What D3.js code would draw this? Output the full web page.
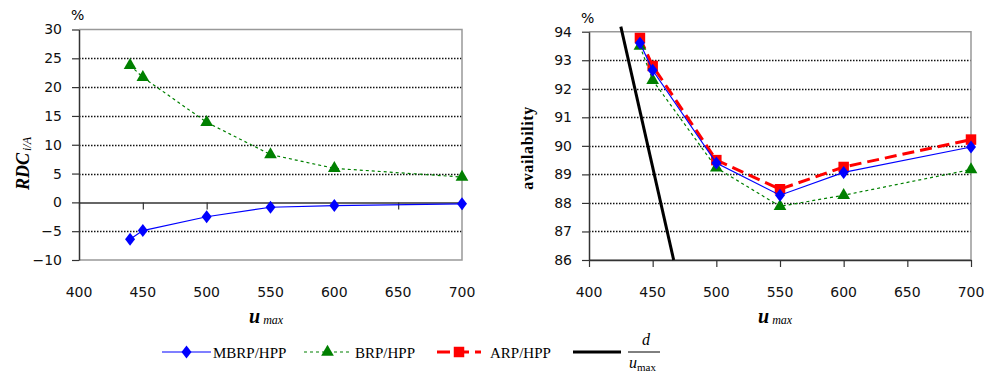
<!DOCTYPE html>
<html>
<head>
<meta charset="utf-8">
<script src="https://cdn.jsdelivr.net/npm/d3@7"></script>
<style>
  body { margin: 0; background: #fff; }
  svg { display: block; }
  .serif { font-family: "Liberation Serif", "Times New Roman", serif; }
</style>
</head>
<body>
<svg id="chart" width="984" height="378"></svg>
<script>
// u_max values shared by both panels
var umax = [440, 450, 500, 550, 600, 700];

// left panel: RDC i/A (%)
var rdcMBRP = [-6.4, -4.9, -2.5, -0.85, -0.55, -0.25];
var rdcBRP = [23.8, 21.7, 13.9, 8.3, 5.9, 4.4];

// right panel: availability (%)
var avMBRP = [93.6, 92.65, 89.4, 88.27, 89.07, 89.96];
var avBRP = [93.5, 92.3, 89.23, 87.88, 88.27, 89.17];
var avARP = [93.78, 92.8, 89.5, 88.48, 89.26, 90.22];

// d / u_max line (two ends)
var dLineX = [425, 466.5];
var dLineY = [94.18, 86];

var xTicks = [400, 450, 500, 550, 600, 650, 700];
var leftYTicks = [-10, -5, 0, 5, 10, 15, 20, 25, 30];
var rightYTicks = [86, 87, 88, 89, 90, 91, 92, 93, 94];

var series = {
  mbrp: {color: '#0000ff', width: 1.2, dash: null, symbol: d3.symbolDiamond, size: 60, label: 'MBRP/HPP'},
  brp: {color: '#008000', width: 1.2, dash: '3,3', symbol: d3.symbolTriangle, size: 70, label: 'BRP/HPP'},
  arp: {color: '#ff0000', width: 3, dash: '12,6', symbol: d3.symbolSquare, size: 110, label: 'ARP/HPP'}
};

var svg = d3.select('#chart');

function panel(opts) {
  var x = d3.scaleLinear().domain([400, 700]).range(opts.xr);
  var y = d3.scaleLinear().domain(opts.yd).range(opts.yr);
  var g = svg.append('g');

  // dotted gridlines
  g.selectAll('.grid').data(opts.yTicks.filter(function(t) {
    return t !== opts.yd[0] && t !== opts.yd[1] && t !== opts.axisAt;
  })).enter().append('line')
    .attr('x1', opts.xr[0]).attr('x2', opts.xr[1])
    .attr('y1', function(d) { return Math.round(y(d)) + 0.5; })
    .attr('y2', function(d) { return Math.round(y(d)) + 0.5; })
    .attr('stroke', '#111').attr('stroke-width', 1.3).attr('stroke-dasharray', '1.5,1.5');

  // plot border (top, right, bottom)
  g.append('path')
    .attr('d', 'M' + opts.xr[0] + ',' + y(opts.yd[1]) + 'H' + opts.xr[1] + 'V' + y(opts.yd[0]) + 'H' + opts.xr[0])
    .attr('fill', 'none').attr('stroke', '#999').attr('stroke-width', 1.5);

  // y axis
  var ya = g.append('g').attr('transform', 'translate(' + opts.xr[0] + ',0)')
    .call(d3.axisLeft(y).tickValues(opts.yTicks).tickSize(7).tickPadding(10).tickSizeOuter(0));
  ya.select('.domain').attr('stroke', '#333').attr('stroke-width', 1.5);
  ya.selectAll('.tick line').attr('stroke', '#333').attr('stroke-width', 1.2);
  ya.selectAll('.tick text').style('font-family', '"DejaVu Sans", sans-serif').style('font-size', '14px').attr('fill', '#111');

  // x axis line at axisAt, labels below plot
  var xa = g.append('g').attr('transform', 'translate(0,' + y(opts.axisAt) + ')')
    .call(d3.axisBottom(x).tickValues(xTicks).tickSize(7).tickSizeOuter(0).tickFormat(''));
  xa.select('.domain').attr('stroke', '#333').attr('stroke-width', 1.5);
  xa.selectAll('.tick line').attr('stroke', '#333').attr('stroke-width', 1.2);

  g.selectAll('.xlab').data(xTicks).enter().append('text')
    .attr('x', function(d) { return x(d); })
    .attr('y', 297)
    .attr('text-anchor', 'middle')
    .style('font-family', '"DejaVu Sans", sans-serif').style('font-size', '14px').attr('fill', '#111')
    .text(function(d) { return d; });

  // "%" over the y axis
  g.append('text').attr('x', opts.xr[0] - 8).attr('y', opts.pctY)
    .style('font-family', '"DejaVu Sans", sans-serif').style('font-size', '14px')
    .text('%');

  // x axis title u_max
  var xt = g.append('text').attr('class', 'serif')
    .attr('x', opts.xTitleX).attr('y', 323);
  xt.append('tspan').style('font-weight', 'bold').style('font-style', 'italic').style('font-size', '20px').text('u');
  xt.append('tspan').attr('dx', 3).attr('dy', 1).style('font-style', 'italic').style('font-size', '12px').text('max');

  return {g: g, x: x, y: y};
}

function drawSeries(p, key, values) {
  var s = series[key];
  var pts = umax.map(function(u, i) { return [u, values[i]]; });
  p.g.append('path')
    .datum(pts)
    .attr('d', d3.line().x(function(d) { return p.x(d[0]); }).y(function(d) { return p.y(d[1]); }))
    .attr('fill', 'none')
    .attr('stroke', s.color)
    .attr('stroke-width', s.width)
    .attr('stroke-dasharray', s.dash);
  p.g.selectAll('.m-' + key).data(pts).enter().append('path')
    .attr('transform', function(d) { return 'translate(' + p.x(d[0]) + ',' + p.y(d[1]) + ')' + (key === 'mbrp' ? ' scale(1.2,0.9)' : ''); })
    .attr('d', d3.symbol().type(s.symbol).size(s.size))
    .attr('fill', s.color);
}

// left panel
var left = panel({
  xr: [79, 462], yd: [-10, 30], yr: [260, 29.5], yTicks: leftYTicks, axisAt: 0,
  pctY: 20, xTitleX: 249
});
drawSeries(left, 'brp', rdcBRP);
drawSeries(left, 'mbrp', rdcMBRP);

// left y title: RDC i/A
var lyt = svg.append('text').attr('class', 'serif')
  .attr('transform', 'translate(29,190) rotate(-90)');
lyt.append('tspan').style('font-weight', 'bold').style('font-style', 'italic').style('font-size', '18px').text('RDC');
lyt.append('tspan').attr('dx', 2).attr('dy', 2).style('font-style', 'italic').style('font-size', '12px').text('i/A');

// right panel
var right = panel({
  xr: [589, 971], yd: [86, 94], yr: [260, 31.7], yTicks: rightYTicks, axisAt: 86,
  pctY: 23, xTitleX: 758
});

// d/u_max line
right.g.append('line')
  .attr('x1', right.x(dLineX[0])).attr('y1', right.y(dLineY[0]))
  .attr('x2', right.x(dLineX[1])).attr('y2', right.y(dLineY[1]))
  .attr('stroke', '#000').attr('stroke-width', 3);

drawSeries(right, 'arp', avARP);
drawSeries(right, 'brp', avBRP);
drawSeries(right, 'mbrp', avMBRP);

svg.append('text').attr('class', 'serif')
  .attr('transform', 'translate(533,148) rotate(-90)')
  .attr('text-anchor', 'middle')
  .style('font-weight', 'bold').style('font-size', '16px').style('letter-spacing', '0.6px')
  .text('availability');

// legend
var legendY = 352;
var legendItems = [
  {key: 'mbrp', x0: 162, x1: 211, tx: 213},
  {key: 'brp', x0: 304, x1: 351, tx: 355},
  {key: 'arp', x0: 437, x1: 481, tx: 490}
];
var lg = svg.append('g');
legendItems.forEach(function(it) {
  var s = series[it.key];
  lg.append('line').attr('x1', it.x0).attr('x2', it.x1).attr('y1', legendY).attr('y2', legendY)
    .attr('stroke', s.color).attr('stroke-width', s.width)
    .attr('stroke-dasharray', it.key === 'brp' ? '3,3' : (it.key === 'arp' ? '13,6' : null));
  lg.append('path')
    .attr('transform', 'translate(' + ((it.x0 + it.x1) / 2) + ',' + legendY + ')' + (it.key === 'mbrp' ? ' scale(1.2,0.9)' : ''))
    .attr('d', d3.symbol().type(s.symbol).size(s.size)).attr('fill', s.color);
  lg.append('text').attr('class', 'serif').attr('x', it.tx).attr('y', legendY + 6)
    .style('font-size', '15px').text(s.label);
});
lg.append('line').attr('x1', 573).attr('x2', 621).attr('y1', legendY).attr('y2', legendY)
  .attr('stroke', '#000').attr('stroke-width', 3);
lg.append('text').attr('class', 'serif').attr('x', 646).attr('y', 345)
  .attr('text-anchor', 'middle').style('font-style', 'italic').style('font-size', '16px').text('d');
lg.append('line').attr('x1', 628).attr('x2', 660).attr('y1', legendY).attr('y2', legendY)
  .attr('stroke', '#000').attr('stroke-width', 1);
var fr = lg.append('text').attr('class', 'serif').attr('x', 629).attr('y', 368);
fr.append('tspan').style('font-style', 'italic').style('font-size', '16px').text('u');
fr.append('tspan').attr('dy', 3).style('font-size', '11px').text('max');
</script>
</body>
</html>
